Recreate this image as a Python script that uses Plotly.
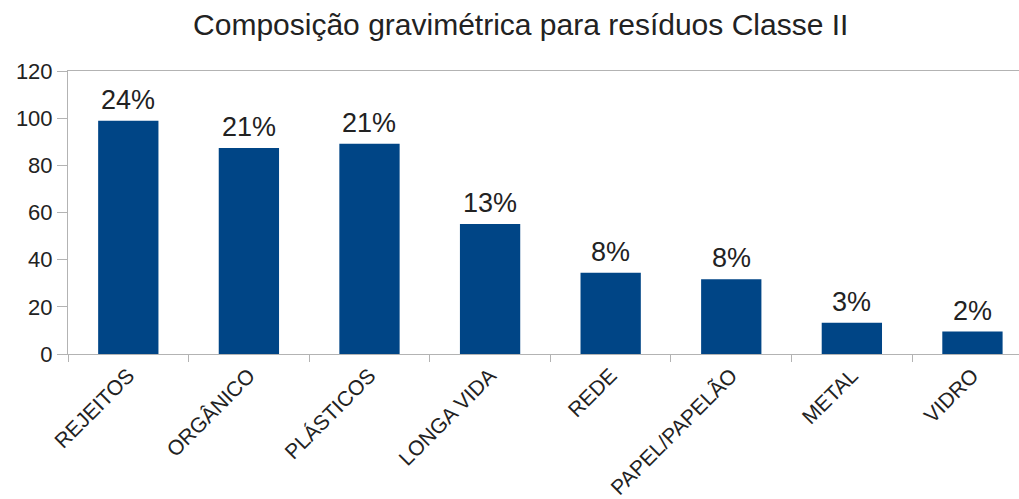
import plotly.graph_objects as go

# Gravimetric composition, Class II waste
categories = ["REJEITOS", "ORGÂNICO", "PLÁSTICOS", "LONGA VIDA", "REDE",
              "PAPEL/PAPELÃO", "METAL", "VIDRO"]
values = [98.9, 87.3, 89.2, 55.1, 34.5, 31.7, 13.3, 9.5]
y_ticks = [0, 20, 40, 60, 80, 100, 120]

total = sum(values)
percent_labels = [f"{round(v / total * 100)}%" for v in values]

BAR_COLOR = "#004586"
AXIS_COLOR = "#b3b3b3"
FONT = "Liberation Sans, Arial, sans-serif"

fig = go.Figure(
    go.Bar(
        x=categories,
        y=values,
        marker=dict(color=BAR_COLOR, line=dict(width=0)),
        hoverinfo="skip",
    )
)

# percentage labels above each bar
for cat, v, lab in zip(categories, values, percent_labels):
    fig.add_annotation(
        x=cat, y=v, text=lab, showarrow=False,
        yanchor="bottom", yshift=4,
        font=dict(family=FONT, size=27, color="#222222"),
    )

fig.update_layout(
    width=1019, height=499,
    margin=dict(l=68, r=0, t=71, b=145),
    plot_bgcolor="white", paper_bgcolor="white",
    bargap=0.5,
    showlegend=False,
    title=dict(
        text="Composição gravimétrica para resíduos Classe II",
        x=0.511, xanchor="center", y=0.95, yanchor="middle",
        font=dict(family=FONT, size=30, color="#222222"),
    ),
    xaxis=dict(
        range=[-0.5, 7.386],
        tickangle=-45,
        tickson="boundaries",
        ticks="outside", ticklen=7, tickcolor=AXIS_COLOR,
        showline=True, linecolor=AXIS_COLOR, linewidth=1,
        mirror=True,
        showgrid=False,
        tickfont=dict(family=FONT, size=21, color="#222222"),
    ),
    yaxis=dict(
        range=[0, 120],
        tickvals=y_ticks,
        ticks="outside", ticklen=10, tickcolor=AXIS_COLOR,
        showline=True, linecolor=AXIS_COLOR, linewidth=1,
        showgrid=False, zeroline=False,
        tickfont=dict(family=FONT, size=22, color="#222222"),
    ),
)

fig.write_html("out.html")
